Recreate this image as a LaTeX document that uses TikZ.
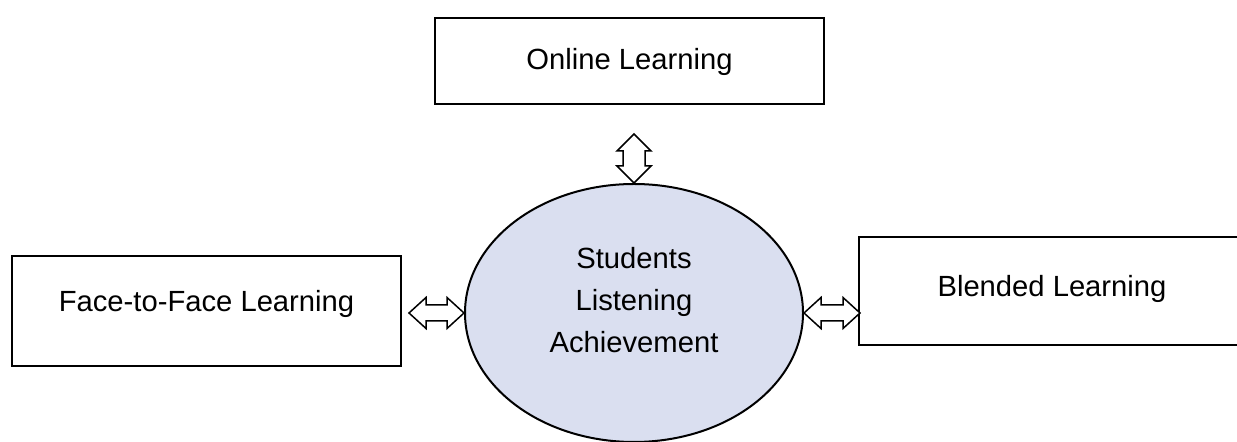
\documentclass[tikz,border=0pt]{standalone}
\usepackage{fontspec}
\setmainfont{Liberation Sans}
\usetikzlibrary{shapes.geometric}
\definecolor{hubfill}{HTML}{DADFF0}
\tikzset{learnbox/.style={draw, line width=1pt, rectangle, inner sep=0pt, text height=10.5pt}}
\tikzset{hub/.style={draw, line width=1pt, ellipse, fill=hubfill, inner sep=0pt, align=center,
		text height=39.4pt, text depth=0pt, minimum width=169pt, minimum height=129pt}}
\tikzset{blockarr/.style={draw, line width=0.75pt, fill=white, line join=miter}}

\begin{document}
\begin{tikzpicture}[x=0.5pt,y=-0.5pt,font=\fontsize{14.6}{21}\selectfont]
		\useasboundingbox (0,0) rectangle (1237,442);
		% centre
		\node[hub] (ach) at (634,313) {Students\\Listening\\Achievement};
		% the three settings
		\node[learnbox, minimum width=194.5pt, minimum height=43pt, text depth=2.3pt] (online) at (629.5,61) {Online Learning};
		\node[learnbox, minimum width=194.5pt, minimum height=55pt, text depth=10.3pt] (face) at (206.5,311) {Face-to-Face Learning};
		\node[learnbox, minimum width=193pt, minimum height=54pt, text depth=5.3pt] (blended) at (1052,291) {Blended Learning};
		
		% block arrows
		\draw[blockarr] (ach.north) -- ++(-17,-17) -- ++(6,0) -- ++(0,-15) -- ++(-6,0) -- ++(17,-17)
		-- ++(17,17) -- ++(-6,0) -- ++(0,15) -- ++(6,0) -- cycle;
		\draw[blockarr] (ach.west) -- ++(-17,-15.5) -- ++(0,7.5) -- ++(-21,0) -- ++(0,-7.5) -- ++(-17,15.5)
		-- ++(17,15.5) -- ++(0,-7.5) -- ++(21,0) -- ++(0,7.5) -- cycle;
		\draw[blockarr] (ach.east) -- ++(17,-15.5) -- ++(0,7.5) -- ++(22,0) -- ++(0,-7.5) -- ++(17,15.5)
		-- ++(-17,15.5) -- ++(0,-7.5) -- ++(-22,0) -- ++(0,7.5) -- cycle;
\end{tikzpicture}
\end{document}
